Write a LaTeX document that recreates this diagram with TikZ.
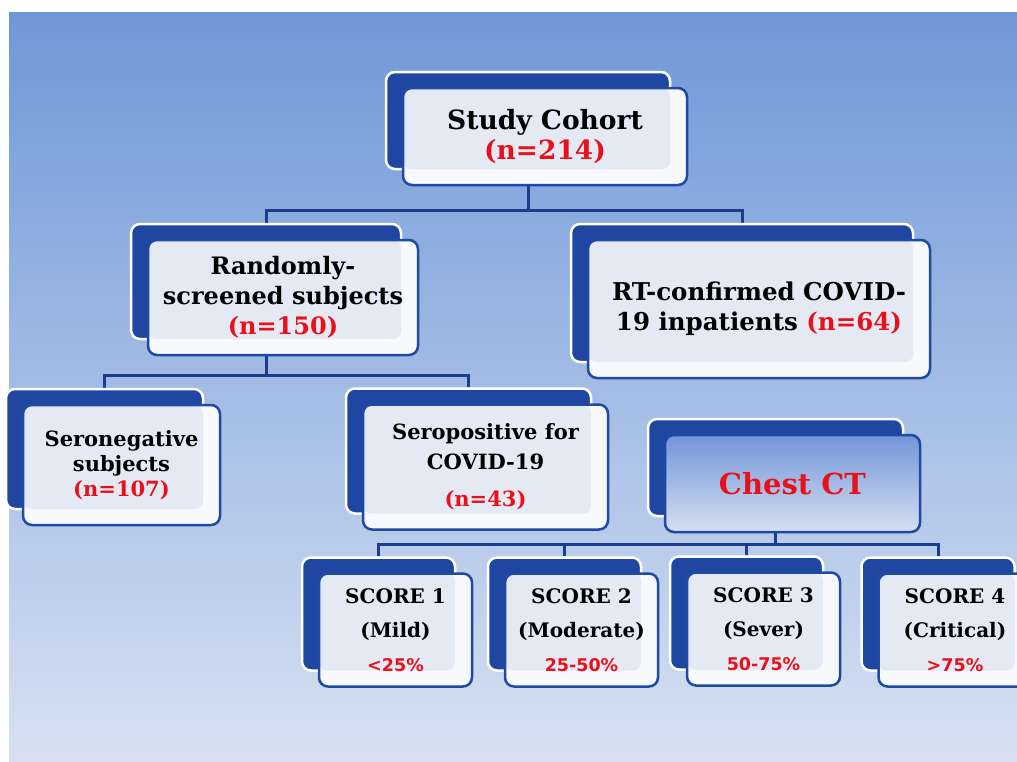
\documentclass[tikz,border=0pt]{standalone}
\usepackage{fontspec}
\setmainfont{DejaVu Serif}
\newfontfamily\pctfont{DejaVu Sans}
\usetikzlibrary{calc,backgrounds}
\definecolor{bgtop}{HTML}{6F97D8}
\definecolor{bgbot}{HTML}{D7E1F2}
\definecolor{backblue}{HTML}{1F47A2}
\definecolor{frontedge}{HTML}{1E4AA3}
\definecolor{overlapc}{HTML}{E4E9F3}
\definecolor{frontfill}{HTML}{F7F9FC}
\definecolor{conncol}{HTML}{1C3C8E}
\definecolor{redtxt}{HTML}{E8101A}
\definecolor{ctTop}{HTML}{7395D8}
\definecolor{ctBot}{HTML}{D5E0F2}
\newcommand\myfs[2]{\fontsize{#1}{#2}\selectfont}
\newcommand\redn[1]{\textcolor{redtxt}{#1}}
\newcommand\pct[1]{{\pctfont\bfseries\myfs{17.5}{20}\textcolor{redtxt}{#1}}}
\tikzset{
  backcopy/.style={preaction={fill=backblue, draw=white, line width=2.5pt,
      transform canvas={xshift=-17pt,yshift=16pt}}},
  frontbox/.style={backcopy, draw=frontedge, line width=2.5pt, rounded corners=9pt,
    fill=frontfill, inner sep=0pt, align=center,
    path picture={\fill[overlapc, rounded corners=8pt]
      (path picture bounding box.north west) rectangle
      ([shift={(-17pt,16pt)}]path picture bounding box.south east);}},
  ctbox/.style={backcopy, draw=frontedge, line width=2.5pt, rounded corners=9pt,
    top color=ctTop, bottom color=ctBot, inner sep=0pt, align=center},
  conn/.style={draw=conncol, line width=3pt},
  scorebox/.style={frontbox, minimum width=153pt, minimum height=113pt,
    font=\bfseries\myfs{20}{34}}
}
\begin{document}
\begin{tikzpicture}[x=1pt,y=-1pt]
\clip (0,0) rectangle (1017,761);

% boxes
\node[frontbox, minimum width=284pt, minimum height=97pt, font=\bfseries\myfs{26.5}{30}] (sc) at (545,136.5)
  {Study Cohort\\\redn{(n=214)}};
\node[frontbox, minimum width=270pt, minimum height=115pt, font=\bfseries\myfs{24}{30}] (rs) at (283,297.5)
  {Randomly-\\screened subjects\\\redn{(n=150)}};
\node[frontbox, minimum width=342pt, minimum height=138pt, font=\bfseries\myfs{24.5}{30}] (rt) at (759,309)
  {RT-confirmed COVID-\\19 inpatients \redn{(n=64)}};
\node[frontbox, minimum width=197pt, minimum height=120pt, font=\bfseries\myfs{21}{25}] (sn) at (121.5,465)
  {Seronegative\\subjects\\\redn{(n=107)}};
\node[frontbox, minimum width=245pt, minimum height=125pt, font=\bfseries\myfs{21}{30}] (sp) at (485.5,467)
  {Seropositive for\\COVID-19\\[7pt]\redn{(n=43)}};
\node[ctbox, minimum width=255pt, minimum height=97pt, font=\bfseries\myfs{29}{32}] (ct) at (792.5,483.5)
  {\redn{Chest CT}};
\node[scorebox] (s1) at (395.5,630) {SCORE 1\\(Mild)\\\pct{<25\%}};
\node[scorebox] (s2) at (581.5,630) {SCORE 2\\(Moderate)\\\pct{25-50\%}};
\node[scorebox] (s3) at (763.5,629) {SCORE 3\\(Sever)\\\pct{50-75\%}};
\node[scorebox] (s4) at (955,630) {SCORE 4\\(Critical)\\\pct{>75\%}};

% anchor points at the centres of the back plates
\foreach \n in {sc,rs,ct} {\coordinate (\n b) at ([xshift=-17pt]\n.south);}
\foreach \n in {rs,rt,sn,sp,s1,s2,s3,s4} {\coordinate (\n t) at ([xshift=-17pt,yshift=16pt]\n.north);}

\begin{scope}[on background layer]
\fill[white] (0,0) rectangle (1017,761);
\shade[top color=bgtop, bottom color=bgbot] (9,12) rectangle (1017,761);
\draw[conn] (scb) -- (scb |- 0,210) coordinate (b1);
\draw[conn] (rst) |- (b1) -| (rtt);
\draw[conn] (rsb) -- (rsb |- 0,375) coordinate (b2);
\draw[conn] (snt) |- (b2) -| (spt);
\draw[conn] (ctb) -- (ctb |- 0,544) coordinate (b3);
\draw[conn] (s1t) |- (b3) -| (s4t);
\draw[conn] (s2t) -- (s2t |- b3);
\draw[conn] (s3t) -- (s3t |- b3);
\end{scope}
\end{tikzpicture}
\end{document}
